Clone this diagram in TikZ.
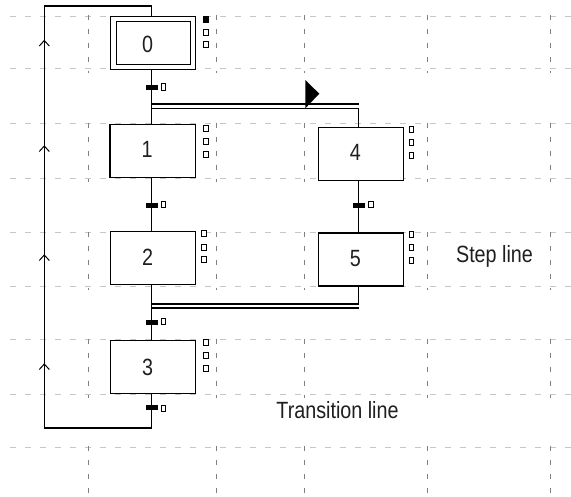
\documentclass[tikz,border=0pt]{standalone}
\usepackage{fontspec}
\newfontfamily\condfont[FakeStretch=0.84]{Liberation Sans}
\begin{document}
\begin{tikzpicture}[x=1pt,y=-1pt,
  ln/.style={line width=1.2pt},
  stepbox/.style={draw, line width=1.2pt, fill=white, minimum width=85.3pt, minimum height=53pt, inner sep=0pt},
  act/.style={draw, line width=0.9pt, fill=white, minimum width=5pt, minimum height=6pt, inner sep=0pt},
  actB/.style={act, minimum width=4.4pt},
  actF/.style={act, fill=black},
  tbar/.style={fill=black, minimum width=12pt, minimum height=4.6pt, inner sep=0pt},
  tcond/.style={draw, line width=0.9pt, fill=white, minimum width=4.4pt, minimum height=6.3pt, inner sep=0pt},
  lbl/.style={font=\condfont\fontsize{23.5}{28}\selectfont, inner sep=0pt, anchor=base, text=black!88},
  hgrid/.style={draw=black!22, line width=0.9pt, dash pattern=on 6pt off 9pt},
  vgrid/.style={draw=black!50, line width=0.9pt, dash pattern=on 5pt off 9pt},
  chev/.style={line width=1pt}]
\useasboundingbox[fill=white] (0,0) rectangle (571,496);
% grid
\foreach \y in {16,68.5,123.5,178.3,232.7,286,339.5,394.3,447}
  \draw[hgrid] (10,\y) -- (571,\y);
\foreach \a/\b in {16/68.5,123.5/178.3,232.7/286,339.5/394.3,447/496}
  \foreach \x in {88,216,304.5,427.5,550.5}
    \draw[vgrid] (\x,{\a-1}) -- (\x,{\b+4});
% helper coordinates
\coordinate (colA) at (151.3,0);
\coordinate (colB) at (358.7,0);
\coordinate (divT) at (0,104);
\coordinate (divB) at (0,108.3);
\coordinate (conT) at (0,304);
\coordinate (conB) at (0,308);
\coordinate (loopL) at (44.3,6);
\coordinate (loopB) at (44.3,428);
% steps
\node[stepbox] (s0) at (153,42.7) {};
\node[stepbox] (s1) at (152.7,150.7) {};
\node[stepbox] (s2) at (153,258.3) {};
\node[stepbox] (s3) at (153,366.7) {};
\node[stepbox] (s4) at (360.8,153.7) {};
\node[stepbox] (s5) at (360.8,259.5) {};
\draw[line width=1.2pt] ([shift={(7,6)}]s0.north west) rectangle ([shift={(-6,-5)}]s0.south east);
% connectors
\draw[ln] (s0.north -| colA) -- (colA |- loopL) -- (loopL) -- (loopB) -- (loopB -| colA) -- (s3.south -| colA);
\draw[ln] (s0.south -| colA) -- (s1.north -| colA);
\draw[ln] (divT -| colA) -- (divT -| colB);
\draw[ln] (divB -| colA) -- (divB -| colB) -- (s4.north -| colB);
\draw[ln] (s1.south -| colA) -- (s2.north -| colA);
\draw[ln] (s4.south -| colB) -- (s5.north -| colB);
\draw[ln] (s2.south -| colA) -- (s3.north -| colA);
\draw[ln] (s5.south -| colB) -- (conT -| colB) -- (conT -| colA);
\draw[ln] (conB -| colA) -- (conB -| colB);
% flag triangle
\fill (305.3,80) -- (319.3,93.7) -- (305.3,108.3) -- cycle;
% chevrons on loop line
\foreach \y in {40.5,146,255,364}
  \draw[chev] (39.3,{\y+5.5}) -- (44.3,\y) -- (49.3,{\y+5.5});
% transitions
\node[tbar] (t01) at (152,87.4) {};
\node[tcond] (c01) at (163.7,86.8) {};
\node[tbar] (t12) at (152,205.3) {};
\node[tcond] (c12) at (163.7,204.7) {};
\node[tbar] (t45) at (359.2,205.3) {};
\node[tcond] (c45) at (371,204.7) {};
\node[tbar] (t3) at (152,322.3) {};
\node[tcond] (c3) at (163.7,321.5) {};
\node[tbar] (t30) at (152,407.3) {};
\node[tcond] (c30) at (163.7,408.2) {};
% action squares
\node[actF] (a0a) at (206,19.3) {};
\node[act] (a0b) at (206,32.2) {};
\node[act] (a0c) at (206,44.8) {};
\node[act] (a1a) at (206,128.2) {};
\node[act] (a1b) at (206,141.5) {};
\node[act] (a1c) at (206,154.8) {};
\node[act] (a2a) at (203.5,233.8) {};
\node[act] (a2b) at (203.5,247) {};
\node[act] (a2c) at (203.5,259.8) {};
\node[act] (a3a) at (206,342.8) {};
\node[act] (a3b) at (206,355.5) {};
\node[act] (a3c) at (206,368.5) {};
\node[actB] (a4a) at (411.5,129) {};
\node[actB] (a4b) at (411.5,142.3) {};
\node[actB] (a4c) at (411.5,155.7) {};
\node[actB] (a5a) at (411.5,234.8) {};
\node[actB] (a5b) at (411.5,247.8) {};
\node[actB] (a5c) at (411.5,260.8) {};
% step numbers
\node[lbl] (n0) at (147.5,52.7) {0};
\node[lbl] (n1) at (147.2,157.3) {1};
\node[lbl] (n2) at (147.5,265) {2};
\node[lbl] (n3) at (147.5,375) {3};
\node[lbl] (n4) at (355.3,160) {4};
\node[lbl] (n5) at (355.3,266.7) {5};
% texts
\node[lbl] (stepline) at (494.5,262) {Step line};
\node[lbl] (transline) at (337.5,418.3) {Transition line};
\end{tikzpicture}
\end{document}
